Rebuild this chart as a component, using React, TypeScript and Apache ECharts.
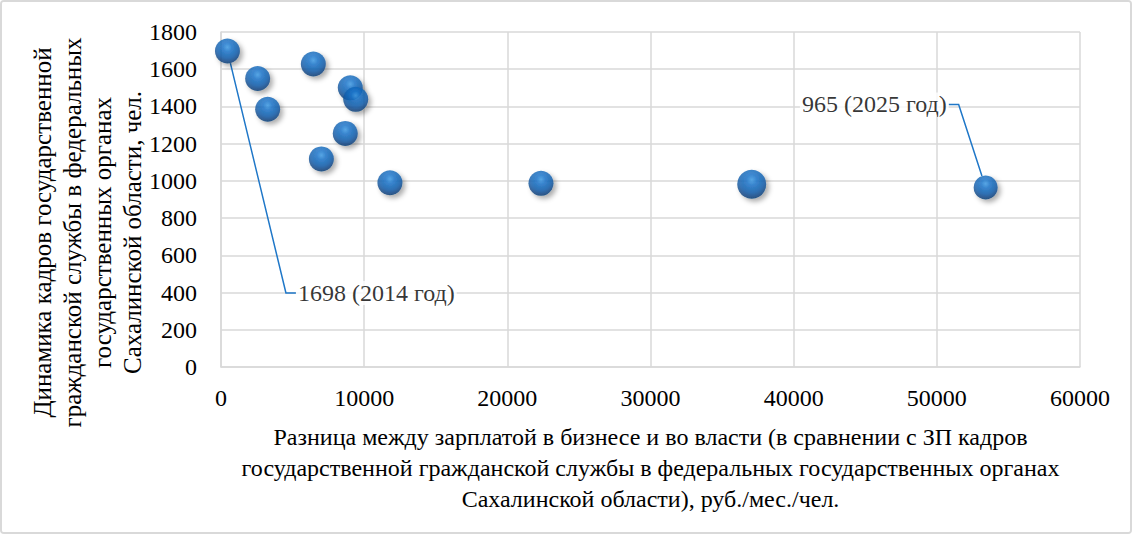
import React, { useEffect, useRef } from "react";
import * as echarts from "echarts";

const xValues = [450, 2560, 3260, 6450, 9030, 9410, 8680, 7010, 11800, 22350, 37070, 53410];
const yValues = [1698, 1550, 1385, 1628, 1500, 1438, 1255, 1118, 990, 987, 982, 965];
const bubbleSizes = [25, 25, 25, 25, 25, 25, 25, 25, 25, 25, 29, 24];
const pointLabels = ["1698 (2014 год)", "", "", "", "", "", "", "", "", "", "", "965 (2025 год)"];

const xTitle =
  "Разница между зарплатой в бизнесе и во власти (в сравнении с ЗП кадров\nгосударственной гражданской службы в федеральных государственных органах\nСахалинской области), руб./мес./чел.";
const yTitle =
  "Динамика кадров государственной\nгражданской службы в федеральных\nгосударственных органах\nСахалинской области, чел.";

const FONT = "Liberation Serif";

export default function App() {
  const ref = useRef<HTMLDivElement>(null);

  useEffect(() => {
    document.body.style.margin = "0";
    if (!ref.current) return;
    const chart = echarts.init(ref.current, undefined, { renderer: "svg" });

    const sphere = new echarts.graphic.RadialGradient(0.5, 0.35, 0.62, [
      { offset: 0, color: "#3f9de8" },
      { offset: 0.3, color: "#1874cc" },
      { offset: 0.7, color: "#0e5cac" },
      { offset: 1, color: "#083d78" },
    ]);

    const txt = { fontFamily: FONT, fontSize: 24, color: "#000000" };

    const data = xValues.map((x, i) => {
      const item: any = { value: [x, yValues[i]], symbolSize: bubbleSizes[i] };
      if (pointLabels[i]) {
        item.label = {
          show: true,
          formatter: pointLabels[i],
          position: i === 0 ? "right" : "left",
          distance: 5,
        };
      }
      return item;
    });

    chart.setOption({
      animation: false,
      backgroundColor: "#ffffff",
      textStyle: { fontFamily: FONT, color: "#000000" },
      grid: { left: 221, right: 52, top: 32, bottom: 167, outerBoundsMode: "none", containLabel: false },
      xAxis: {
        type: "value",
        min: 0,
        max: 60000,
        interval: 10000,
        name: xTitle,
        nameLocation: "middle",
        nameGap: 54,
        nameMoveOverlap: false,
        nameTextStyle: { ...txt, lineHeight: 31 },
        axisLine: { show: true, lineStyle: { color: "#d9d9d9", width: 1.5 } },
        axisTick: { show: false },
        axisLabel: { ...txt, margin: 19, formatter: (v: number) => String(v) },
        splitLine: { show: true, lineStyle: { color: "#d9d9d9", width: 1.5 } },
      },
      yAxis: {
        type: "value",
        min: 0,
        max: 1800,
        interval: 200,
        name: yTitle,
        nameLocation: "middle",
        nameRotate: 90,
        nameGap: 74,
        nameMoveOverlap: false,
        nameTextStyle: { ...txt, fontSize: 25, lineHeight: 30, padding: [0, 66, 0, 0] },
        axisLine: { show: true, lineStyle: { color: "#d9d9d9", width: 1.5 } },
        axisTick: { show: false },
        axisLabel: { ...txt, margin: 24, formatter: (v: number) => String(v) },
        splitLine: { show: true, lineStyle: { color: "#d9d9d9", width: 1.5 } },
      },
      series: [
        {
          type: "scatter",
          data,
          itemStyle: {
            color: sphere,
            shadowBlur: 5,
            shadowOffsetX: 3,
            shadowOffsetY: 3,
            shadowColor: "rgba(0,0,0,0.4)",
          },
          label: {
            show: false,
            ...txt,
            backgroundColor: "#ffffff",
            padding: [0, 2],
          },
          labelLine: {
            show: true,
            length2: 10,
            lineStyle: { color: "#1f77c8", width: 1.5 },
          },
          labelLayout: (params: any) => {
            if (params.dataIndex === 0) return { dx: 51, dy: 242 };
            if (params.dataIndex === xValues.length - 1) return { dx: -20, dy: -83 };
            return {};
          },
          emphasis: { disabled: true },
        },
      ],
    });

    return () => chart.dispose();
  }, []);

  return (
    <div
      style={{
        position: "fixed",
        left: 0,
        top: 0,
        width: 1132,
        height: 534,
        boxSizing: "border-box",
        border: "2px solid #d9d9d9",
        borderRadius: 4,
        background: "#fff",
        overflow: "hidden",
      }}
    >
      <div ref={ref} style={{ position: "absolute", left: -2, top: -2, width: 1132, height: 534 }} />
    </div>
  );
}
